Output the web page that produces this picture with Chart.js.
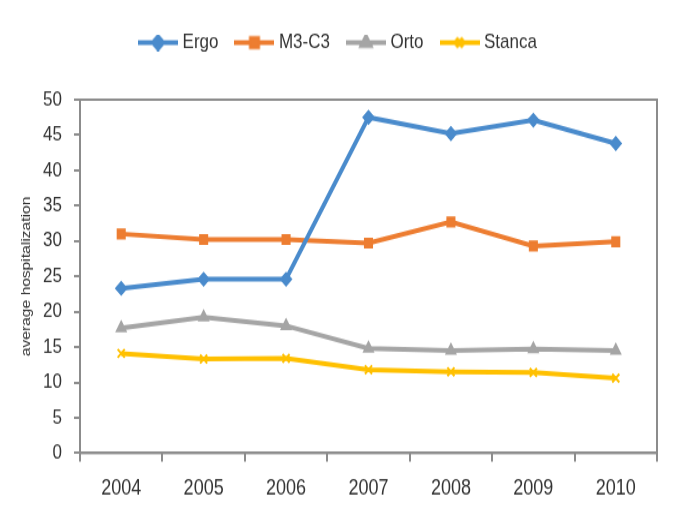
<!DOCTYPE html>
<html>
<head>
<meta charset="utf-8">
<script src="https://cdn.jsdelivr.net/npm/chart.js@4.4.1/dist/chart.umd.min.js"></script>
<style>
  html, body { margin: 0; padding: 0; background: #fff; }
  /* the reference picture is stretched vertically, so the canvas is shown taller than it is drawn */
  #hospChart { display: block; width: 677px; height: 521px; }
</style>
</head>
<body>
<canvas id="hospChart" width="677" height="434" style="width:677px;height:521px"></canvas>
<script>
// data
const years = ['2004', '2005', '2006', '2007', '2008', '2009', '2010'];
const ergo = [23.3, 24.6, 24.6, 47.5, 45.2, 47.1, 43.8];
const m3c3 = [31.0, 30.2, 30.2, 29.7, 32.7, 29.3, 29.9];
const orto = [17.7, 19.2, 18.0, 14.8, 14.5, 14.7, 14.5];
const stanca = [14.1, 13.3, 13.4, 11.8, 11.5, 11.4, 10.6];
const yTicks = [0, 5, 10, 15, 20, 25, 30, 35, 40, 45, 50];

const FONT = "'Liberation Sans', Arial, sans-serif";
const AXIS = '#8c8c8c';

// small canvas with a line and the marker, used as legend symbol
function legendSymbol(color, style) {
  const c = document.createElement('canvas');
  c.width = 40;
  c.height = 14;
  const g = c.getContext('2d');
  g.strokeStyle = color;
  g.fillStyle = color;
  g.lineWidth = 4;
  g.beginPath();
  g.moveTo(0, 7);
  g.lineTo(40, 7);
  g.stroke();
  Chart.helpers.drawPoint(g, { pointStyle: style, radius: 5, borderWidth: 2 }, 20, 7);
  g.fill();
  return c;
}

const series = [
  { label: 'Ergo', data: ergo, color: '#4a8bcc', marker: 'rectRot' },
  { label: 'M3-C3', data: m3c3, color: '#ed7d31', marker: 'rect' },
  { label: 'Orto', data: orto, color: '#a5a5a5', marker: 'triangle' },
  { label: 'Stanca', data: stanca, color: '#ffc000', marker: 'crossRot' }
];

// frame round the plot area
const frame = {
  id: 'frame',
  afterDraw(chart) {
    const a = chart.chartArea;
    const g = chart.ctx;
    g.save();
    g.strokeStyle = AXIS;
    g.lineWidth = 2;
    g.strokeRect(a.left, a.top, a.right - a.left, a.bottom - a.top);
    g.restore();
  }
};

// extra room under the legend, and legend centred on the whole picture
const legendGap = {
  id: 'legendGap',
  beforeInit(chart) {
    const fit = chart.legend.fit;
    chart.legend.fit = function () {
      fit.call(this);
      this.height += 29;
    };
  },
  afterLayout(chart) {
    chart.legend.left += 11;
    chart.legend.right += 11;
  }
};

const ctx = document.getElementById('hospChart').getContext('2d');
new Chart(ctx, {
  type: 'line',
  data: {
    labels: years,
    datasets: series.map(s => ({
      label: s.label,
      data: s.data,
      borderColor: s.color,
      backgroundColor: s.color,
      borderWidth: 4,
      pointStyle: s.marker,
      pointRadius: 5,
      pointBorderWidth: 2,
      pointBorderColor: s.color,
      pointBackgroundColor: s.color,
      tension: 0,
      fill: false
    }))
  },
  options: {
    responsive: false,
    animation: false,
    layout: { padding: { top: 7, right: 20, left: 0, bottom: 4 } },
    scales: {
      x: {
        offset: true,
        grid: { offset: true, drawOnChartArea: false, drawTicks: true, tickLength: 7, color: AXIS, lineWidth: 2 },
        border: { color: AXIS, width: 2 },
        ticks: { color: '#333', font: { family: FONT, size: 18 }, padding: 12 }
      },
      y: {
        min: 0,
        max: 50,
        afterBuildTicks: axis => { axis.ticks = yTicks.map(v => ({ value: v })); },
        afterFit: axis => { axis.width = 80; },
        grid: { drawOnChartArea: false, drawTicks: true, tickLength: 6, color: AXIS, lineWidth: 2 },
        border: { color: AXIS, width: 2 },
        ticks: { color: '#333', font: { family: FONT, size: 17 }, padding: 12 },
        title: {
          display: true,
          text: 'average hospitalization',
          color: '#333',
          font: { family: FONT, size: 13 },
          padding: { top: 19, bottom: 0 }
        }
      }
    },
    plugins: {
      legend: {
        display: true,
        position: 'top',
        labels: {
          usePointStyle: true,
          pointStyleWidth: 32,
          boxHeight: 14,
          color: '#333',
          font: { family: FONT, size: 17 },
          padding: 20,
          generateLabels: chart => series.map((s, i) => ({
            text: s.label,
            datasetIndex: i,
            pointStyle: legendSymbol(s.color, s.marker),
            fillStyle: s.color,
            strokeStyle: s.color,
            fontColor: '#333',
            lineWidth: 0,
            hidden: false
          }))
        }
      },
      tooltip: { enabled: false }
    }
  },
  plugins: [frame, legendGap]
});
</script>
</body>
</html>
